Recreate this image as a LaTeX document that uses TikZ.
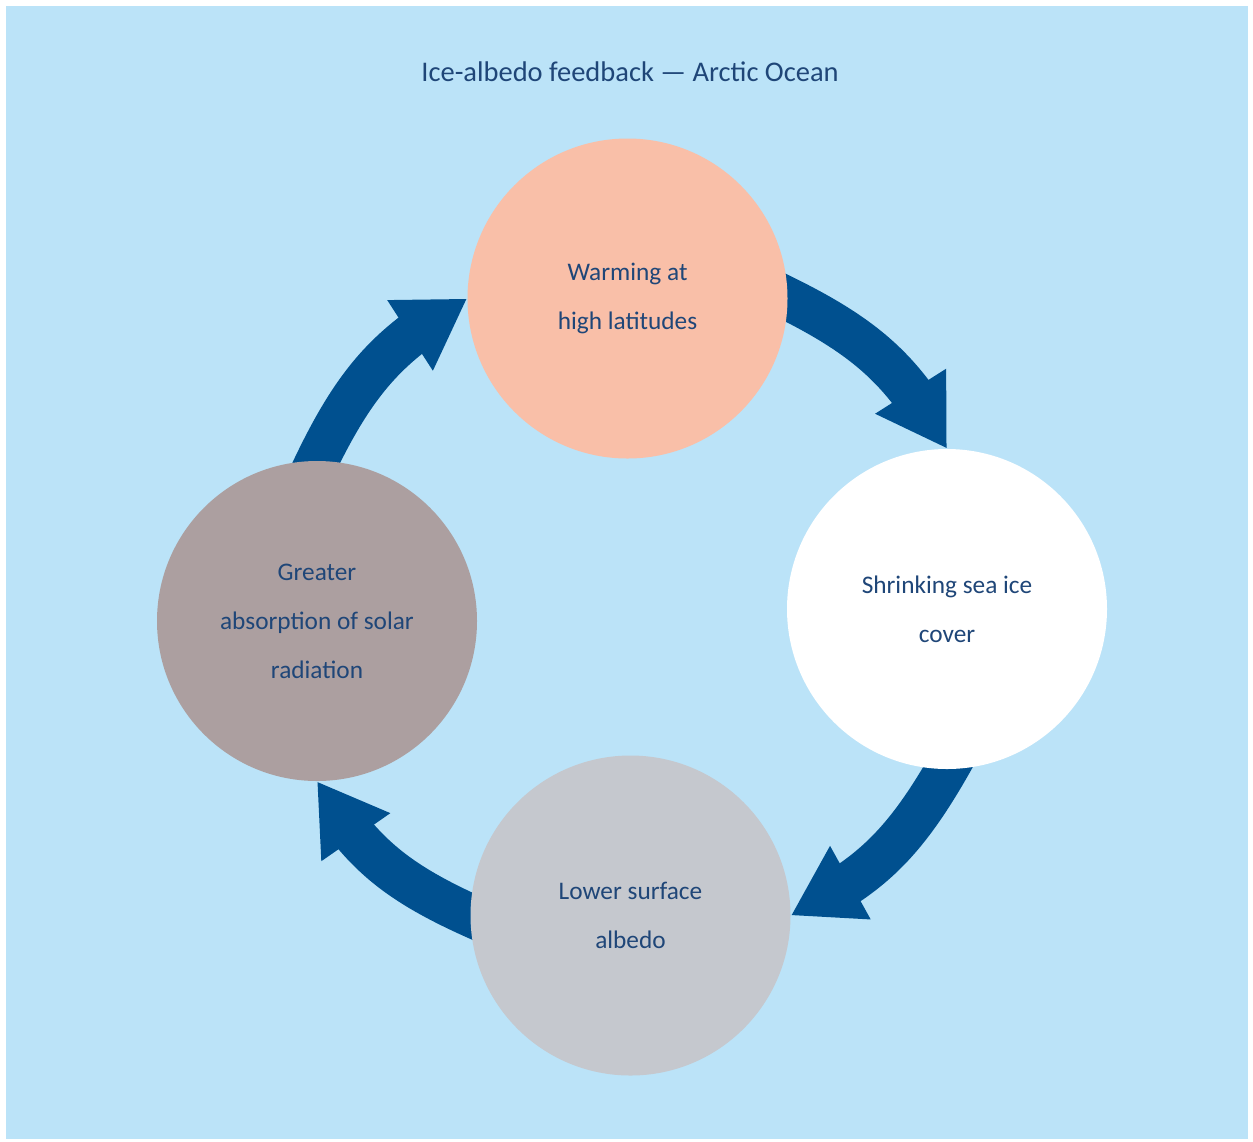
\documentclass[tikz,border=0pt]{standalone}
\usepackage{fontspec}
\setmainfont{Carlito}
\usepackage{tikz}
\usetikzlibrary{arrows.meta,bending,positioning,backgrounds}
\definecolor{myocean}{RGB}{187,227,248}
\definecolor{mynavy}{RGB}{0,80,143}
\definecolor{mytext}{RGB}{31,70,120}
\definecolor{mysalmon}{RGB}{249,191,168}
\definecolor{mygrey}{RGB}{197,200,206}
\definecolor{mytaupe}{RGB}{172,159,160}
\tikzset{
  stage/.style={circle,minimum size=6.4cm,inner sep=0pt,align=center,
    text=mytext,font=\fontsize{14.4}{27.9}\selectfont},
  loop/.style={-{Triangle[length=1.36cm,width=1.58cm,flex]},line width=0.86cm,
    color=mynavy,bend left=18,shorten <=-0.4cm},
  heading/.style={text=mytext,font=\fontsize{16.2}{19}\selectfont},
}
\begin{document}
\begin{tikzpicture}
  \useasboundingbox (0,0) rectangle (25.06,-22.82);
  \node[heading] (title) at (12.6,-1.44) {Ice-albedo feedback --- Arctic Ocean};
  % the four stages of the loop
  \node[stage,fill=mysalmon] (warm) at (12.55,-5.97) {Warming at\\high latitudes};
  \node[stage,fill=white] (ice) at (18.94,-12.18) {Shrinking sea ice\\cover};
  \node[stage,fill=mygrey] (albedo) at (12.61,-18.31) {Lower surface\\albedo};
  \node[stage,fill=mytaupe] (absorb) at (6.34,-12.42) {Greater\\absorption of solar\\radiation};
  \begin{scope}[on background layer]
    \fill[myocean] (0.12,-0.12) rectangle (24.96,-22.78);
    \draw[loop] (warm.east) to (ice.north);
    \draw[loop] (ice.south) to (albedo.east);
    \draw[loop] (albedo.west) to (absorb.south);
    \draw[loop] (absorb.north) to (warm.west);
  \end{scope}
\end{tikzpicture}
\end{document}
